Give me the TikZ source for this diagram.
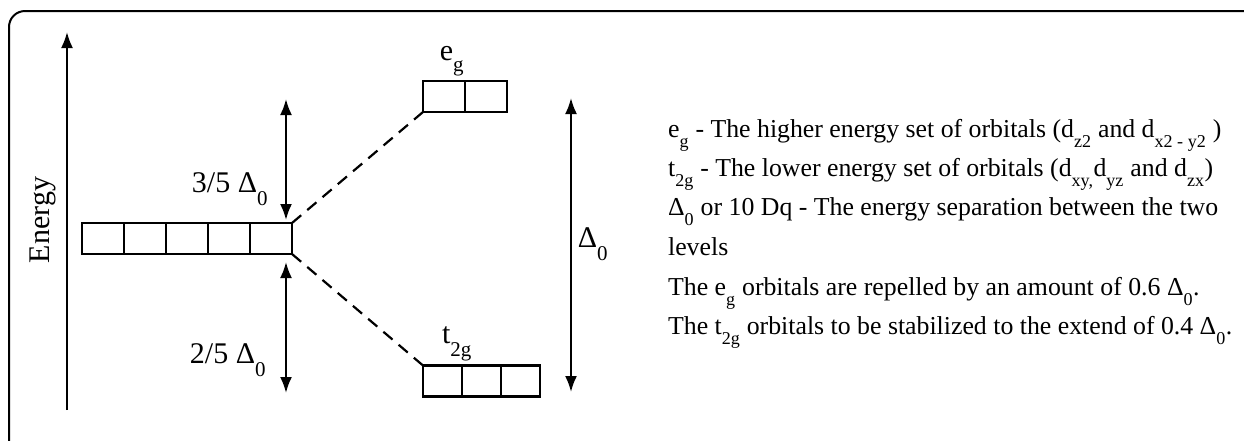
\documentclass[tikz,border=0pt]{standalone}
\usepackage{fontspec}
\setmainfont{Liberation Serif}
\usetikzlibrary{arrows.meta}
\newcommand{\lsub}[1]{\raisebox{-0.6ex}{\textsubscript{#1}}}
\tikzset{
  orb/.style={draw,line width=2.6pt,minimum width=42pt,minimum height=31pt,inner sep=0pt,outer sep=0pt},
  txt/.style={anchor=base west,inner sep=0pt,font=\fontsize{25.8}{30}\selectfont},
  lab/.style={anchor=base,inner sep=0pt,font=\fontsize{30}{32}\selectfont}
}
\begin{document}
\begin{tikzpicture}[x=1pt,y=-1pt,>={Latex[length=16pt,width=12pt]},line width=2.2pt]
\useasboundingbox (0,0) rectangle (1244,440);
\begin{scope}
\clip (0,0) rectangle (1244,440);
\draw[rounded corners=16pt,line width=2pt] (9,11) rectangle (1275,470);
\end{scope}

% energy axis
\coordinate (en0) at (67,410);
\coordinate (en1) at (67,32);
\draw[->] (en0)--(en1);
\node[inner sep=0pt,rotate=90,font=\fontsize{30}{32}\selectfont] (energy) at (43,220){Energy};

% orbitals
\foreach \i in {1,...,5}
{
    \node[orb] (d\i) at ({82+42*(\i-0.5)},238.5){};
}
\foreach \i in {1,2}
{
    \node[orb] (e\i) at ({423+42*(\i-0.5)},96.5){};
}
\foreach \i in {1,2,3}
{
    \node[orb,minimum width=39pt] (t\i) at ({423+39*(\i-0.5)},381){};
}
\node[lab] (eglab) at (452,60){e\lsub{g}};
\node[lab] (tglab) at (457,343){t\lsub{2g}};

\draw[dashed,dash pattern=on 12pt off 8pt] (d5.north east)--(e1.south west);
\draw[dashed,dash pattern=on 12pt off 8pt] (d5.south east)--(t1.north west);

% splitting
\coordinate (up0) at (286,99);
\coordinate (up1) at (286,220);
\coordinate (dn0) at (286,262);
\coordinate (dn1) at (286,393);
\coordinate (dl0) at (571,98);
\coordinate (dl1) at (571,392);
\draw[<->] (up0)--(up1);
\draw[<->] (dn0)--(dn1);
\draw[<->] (dl0)--(dl1);
\node[lab] (tf) at (230,192){3/5 Δ\lsub{0}};
\node[lab] (tw) at (228,363){2/5 Δ\lsub{0}};
\node[lab] (dlab) at (593,247){Δ\lsub{0}};

% legend
\node[txt] (l1) at (667,137){e\lsub{g} - The higher energy set of orbitals (d\lsub{z2} and d\lsub{x2 - y2} )};
\node[txt] (l2) at (667,176){t\lsub{2g} - The lower energy set of orbitals (d\lsub{xy,}d\lsub{yz} and d\lsub{zx})};
\node[txt] (l3) at (667,215){Δ\lsub{0} or 10 Dq - The energy separation between the two};
\node[txt] (l4) at (667,255){levels};
\node[txt] (l5) at (667,295){The e\lsub{g} orbitals are repelled by an amount of 0.6 Δ\lsub{0}.};
\node[txt] (l6) at (667,334){The t\lsub{2g} orbitals to be stabilized to the extend of 0.4 Δ\lsub{0}.};
\end{tikzpicture}
\end{document}
